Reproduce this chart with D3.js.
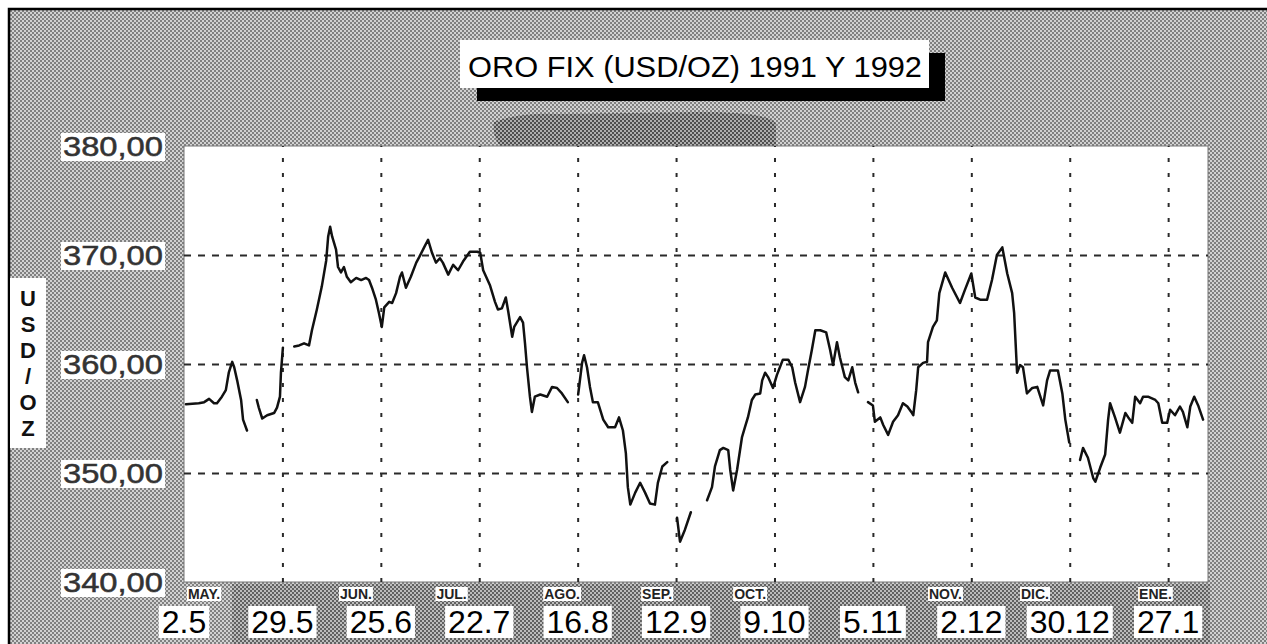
<!DOCTYPE html>
<html><head><meta charset="utf-8">
<script src="https://cdn.jsdelivr.net/npm/d3@7"></script>
<style>html,body{margin:0;padding:0;background:#fff;overflow:hidden}</style>
</head><body><svg id="c" width="1267" height="644"></svg>
<script>
// ---------- data ----------
const chartTitle = "ORO FIX (USD/OZ) 1991 Y 1992";
const yAxisTitle = ["U", "S", "D", "/", "O", "Z"];
const yTicks = [340, 350, 360, 370, 380];
const gridValues = [350, 360, 370];
const dateTickDays = [0, 20, 40, 60, 80, 100, 120, 140, 160, 180, 200];
const dateTickLabels = ["2.5", "29.5", "25.6", "22.7", "16.8", "12.9", "9.10", "5.11", "2.12", "30.12", "27.1"];
const monthLabels = ["MAY.", "JUN.", "JUL.", "AGO.", "SEP.", "OCT.", "NOV.", "DIC.", "ENE."];
const monthDays = [0.8, 31.7, 51.3, 73.2, 93.1, 111.8, 151.4, 170.1, 194.1];
// trading-day position of each fix (null price = gap in the record)
const days = [
  0.4,3.0,4.1,5.1,6.1,6.7,7.7,8.5,9.1,9.8,10.2,10.8,11.6,12.0,12.8,
  13.8,
  14.8,15.2,15.9,16.9,18.3,18.9,19.5,19.7,20.1,
  21.2,
  22.4,23.4,24.4,25.4,26.0,27.0,28.0,28.9,29.3,29.7,30.1,30.9,31.3,31.9,32.5,33.1,33.9,35.0,36.0,37.0,
  37.6,38.2,39.0,39.6,40.2,40.7,41.7,42.3,43.1,43.9,44.3,45.1,45.5,46.1,47.2,47.8,48.8,49.6,50.4,51.2,
  52.0,52.6,53.7,54.7,55.7,56.7,58.1,59.6,60.2,60.8,62.2,63.2,63.8,64.6,65.4,65.9,66.7,67.1,68.3,68.9,
  69.3,69.7,70.3,70.7,71.3,72.4,73.8,74.8,75.8,76.8,78.0,
  79.0,
  80.1,80.9,81.3,81.9,82.5,83.1,84.1,85.2,86.2,87.6,88.4,89.2,89.8,90.2,90.7,91.7,92.7,93.7,94.7,95.7,96.3,97.2,98.2,
  99.2,
  100.2,100.8,101.8,103.0,
  104.6,
  106.3,107.3,107.9,108.9,109.6,110.6,111.0,111.6,112.4,113.4,114.0,114.6,115.4,116.1,117.1,117.5,118.1,118.7,119.7,120.5,
  121.1,121.7,122.8,123.6,124.2,125.2,126.2,126.8,127.6,128.3,129.3,130.5,131.3,131.9,132.7,133.3,134.3,135.0,135.8,136.4,137.0,
  138.0,
  139.0,140.0,140.4,141.5,142.1,143.1,144.1,145.1,146.1,147.0,147.8,148.2,148.8,149.2,150.2,151.0,151.2,152.2,153.0,153.5,
  154.7,156.1,157.7,158.7,160.0,160.8,161.8,163.2,164.2,165.2,166.3,167.3,168.3,168.7,169.3,169.9,170.5,171.3,172.4,173.4,
  174.6,175.4,176.0,177.6,178.5,179.1,179.9,
  181.0,
  182.1,182.7,183.7,184.8,185.2,186.2,187.2,187.8,188.2,189.2,190.2,191.3,191.9,192.7,193.3,194.3,194.9,195.9,197.4,198.0,
  198.8,199.8,200.4,201.4,202.4,203.0,203.9,204.5,205.3,206.1,207.1
];
const prices = [
  356.3,356.4,356.5,356.8,356.4,356.4,357.0,357.6,359.2,360.2,359.7,358.5,356.7,354.9,353.9,
  null,
  356.7,356.0,355.0,355.3,355.5,356.0,357.0,359.2,361.5,
  null,
  361.6,361.7,361.9,361.7,363.1,365.0,367.1,369.5,371.7,372.6,371.7,370.5,368.9,368.4,368.9,368.0,367.5,367.9,367.7,367.9,
  367.7,367.0,365.9,364.7,363.4,365.2,365.7,365.6,366.5,368.0,368.4,367.0,367.4,368.0,369.3,369.8,370.7,371.4,370.2,369.3,
  369.7,369.3,368.2,369.1,368.6,369.4,370.3,370.3,370.2,368.6,367.2,365.7,365.0,365.1,366.1,364.8,362.5,363.4,364.3,363.8,
  361.9,359.7,357.0,355.6,357.0,357.2,357.0,357.9,357.8,357.3,356.5,
  null,
  357.2,360.1,360.8,359.7,357.9,356.5,356.5,354.9,354.2,354.2,355.1,353.9,351.8,348.7,347.1,348.2,349.1,348.2,347.2,347.1,349.1,350.6,351.0,
  null,
  345.9,343.7,344.8,346.4,
  null,
  347.5,348.7,350.6,352.1,352.3,352.1,350.3,348.4,350.3,353.3,354.2,355.1,356.7,357.2,357.3,358.5,359.2,358.8,357.8,359.0,
  359.7,360.4,360.4,359.7,358.3,356.5,357.9,359.4,361.3,363.1,363.1,362.9,361.3,359.9,362.0,360.6,358.8,358.5,359.7,358.3,357.4,
  null,
  356.5,356.2,354.7,355.1,354.4,353.5,354.7,355.3,356.4,356.1,355.6,355.3,357.6,359.7,360.1,360.2,362.0,363.4,364.0,366.5,
  368.4,367.0,365.6,366.8,368.3,366.1,365.9,365.9,367.7,370.0,370.7,368.3,366.5,364.7,359.2,359.9,359.7,357.3,357.8,357.9,
  356.2,358.5,359.4,359.4,357.3,354.9,352.8,
  null,
  351.2,352.3,351.4,349.5,349.2,350.5,351.7,354.9,356.4,355.1,353.7,355.5,355.1,354.6,357.0,356.4,357.0,357.0,356.7,356.4,
  354.6,354.6,355.8,355.3,356.1,355.6,354.2,356.1,357.0,356.2,354.9
];

// ---------- drawing ----------
const W = 1267, H = 644;
const FONT = "'Liberation Sans', Arial, Helvetica, sans-serif";
const svg = d3.select("#c");
const defs = svg.append("defs");
function halftone(id, bg, fg) {
  const p = defs.append("pattern").attr("id", id).attr("width", 4).attr("height", 4)
    .attr("patternUnits", "userSpaceOnUse");
  p.append("rect").attr("width", 4).attr("height", 4).attr("fill", bg);
  p.append("rect").attr("width", 2).attr("height", 2).attr("fill", fg);
  p.append("rect").attr("x", 2).attr("y", 2).attr("width", 2).attr("height", 2).attr("fill", fg);
}
halftone("ht", "#d2d2d2", "#808080");
halftone("htd", "#a0a0a0", "#3a3a3a");

svg.append("rect").attr("width", W).attr("height", H).attr("fill", "#fff");
svg.append("rect").attr("x", 9).attr("y", 9).attr("width", W - 9).attr("height", H - 9).attr("fill", "url(#ht)");
// scan smudges
svg.append("path").attr("d", "M494,122 Q520,112 560,114 L700,112 Q770,112 776,124 L776,146 L500,146 Q492,136 494,122Z")
  .attr("fill", "url(#htd)").attr("opacity", 0.7);
svg.append("rect").attr("x", 232).attr("y", 584).attr("width", 978).attr("height", 60)
  .attr("fill", "url(#htd)").attr("opacity", 0.45);
svg.append("path").attr("d", `M9,${H}V9H${W}`).attr("fill", "none").attr("stroke", "#000").attr("stroke-width", 2.5);

const m = {l: 184, t: 146, r: 1208, b: 582};
const x = d3.scaleLinear().domain([0, 208.1]).range([m.l, m.r]);
const y = d3.scaleLinear().domain([340, 380]).range([m.b, m.t]);

svg.append("rect").attr("x", m.l).attr("y", m.t).attr("width", m.r - m.l).attr("height", m.b - m.t)
  .attr("fill", "#fff").attr("stroke", "#777").attr("stroke-width", 1);

// grid via axes
const gx = svg.append("g").attr("transform", `translate(0,${m.b})`)
  .call(d3.axisBottom(x).tickValues(dateTickDays.filter(d => d > 0)).tickSize(-(m.b - m.t)).tickFormat(""));
gx.select(".domain").remove();
gx.selectAll("line").attr("stroke", "#2a2a2a").attr("stroke-width", 2).attr("stroke-dasharray", "4,11");
const gy = svg.append("g").attr("transform", `translate(${m.l},0)`)
  .call(d3.axisLeft(y).tickValues(gridValues).tickSize(-(m.r - m.l)).tickFormat(""));
gy.select(".domain").remove();
gy.selectAll("line").attr("stroke", "#2a2a2a").attr("stroke-width", 2).attr("stroke-dasharray", "7,7");

// series
const data = days.map((d, i) => ({d, p: prices[i]}));
svg.append("path").datum(data)
  .attr("d", d3.line().defined(e => e.p != null).x(e => x(e.d)).y(e => y(e.p)))
  .attr("fill", "none").attr("stroke", "#111").attr("stroke-width", 2.5)
  .attr("stroke-linejoin", "round").attr("stroke-linecap", "round");

// label helper: text with white box behind
function boxed(g, t, px, py, opts) {
  const grp = g.append("g");
  const r = grp.append("rect").attr("fill", "#fff");
  const tx = grp.append("text").attr("x", px).attr("y", py).text(t)
    .attr("font-family", FONT).attr("font-size", opts.size).attr("fill", opts.fill || "#000")
    .attr("font-weight", opts.weight || "normal").attr("text-anchor", opts.anchor || "start");
  if (opts.len) tx.attr("textLength", opts.len).attr("lengthAdjust", "spacingAndGlyphs");
  if (opts.stroke) tx.attr("stroke", opts.fill).attr("stroke-width", opts.stroke);
  const bb = tx.node().getBBox();
  const p = opts.pad || [2, 1];
  r.attr("x", bb.x - p[0]).attr("y", bb.y - p[1]).attr("width", bb.width + 2 * p[0]).attr("height", bb.height + 2 * p[1]);
  return grp;
}

// y tick labels
const fmt = v => d3.format(".2f")(v).replace(".", ",");
yTicks.forEach(v => boxed(svg, fmt(v), 63, y(v) + 10, {size: 27, len: 100, fill: "#333", stroke: 0.5, pad: [2, -1]}));

// date labels
dateTickDays.forEach((d, i) => boxed(svg, dateTickLabels[i], x(d), 633, {size: 32, anchor: "middle", pad: [3, -2]}));

// month labels
monthLabels.forEach((t, i) => boxed(svg, t, x(monthDays[i]), 599, {size: 14, weight: "bold", fill: "#222", pad: [1, -1]}));

// y axis title
svg.append("rect").attr("x", 10).attr("y", 278).attr("width", 36).attr("height", 170).attr("fill", "#fff");
svg.append("g").selectAll("text").data(yAxisTitle).join("text")
  .attr("x", 28).attr("y", (d, i) => 306 + i * 26).attr("text-anchor", "middle")
  .attr("font-family", FONT).attr("font-weight", "bold").attr("font-size", 22).attr("fill", "#111")
  .text(d => d);

// title with shadow
svg.append("rect").attr("x", 477).attr("y", 53).attr("width", 468).attr("height", 48).attr("fill", "#000");
svg.append("rect").attr("x", 460).attr("y", 40).attr("width", 469).attr("height", 48).attr("fill", "#fff");
svg.append("text").attr("x", 468).attr("y", 77).text(chartTitle)
  .attr("font-family", FONT).attr("font-size", 29).attr("fill", "#000")
  .attr("textLength", 454).attr("lengthAdjust", "spacingAndGlyphs");
</script>
</body></html>
